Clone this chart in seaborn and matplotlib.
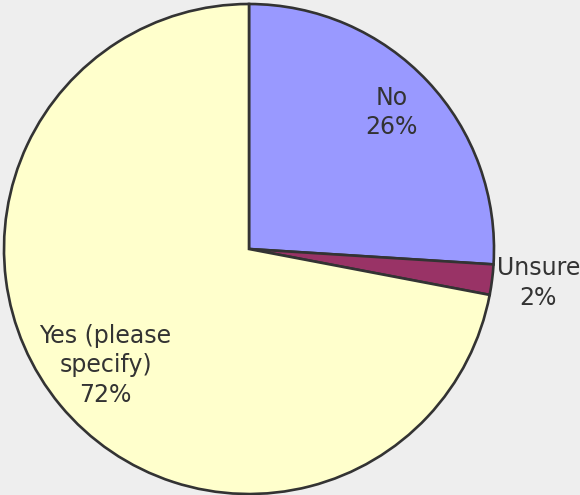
import numpy as np
import matplotlib
matplotlib.use("Agg")
import matplotlib.pyplot as plt
import seaborn as sns

categories = ["No", "Unsure", "Yes (please\nspecify)"]
values = [26, 2, 72]
colors = ["#9999FF", "#993366", "#FFFFCC"]
label_dist = [0.80, 1.19, 0.76]

sns.set_style("white")
plt.rcParams["font.family"] = ["DejaVu Sans"]

fig = plt.figure(figsize=(5.8, 4.95), dpi=100)
fig.patch.set_facecolor("#EEEEEE")
ax = fig.add_axes([4 / 580, 1 / 495, 490 / 580, 490 / 495])
ax.set_facecolor("#EEEEEE")

wedges, _ = ax.pie(values, colors=colors, startangle=90, counterclock=False,
                   radius=1.0, wedgeprops=dict(edgecolor="#333333", linewidth=1.9))
for w, cat, v, d in zip(wedges, categories, values, label_dist):
    mid = np.deg2rad((w.theta1 + w.theta2) / 2)
    x, y = d * np.cos(mid), d * np.sin(mid)
    ax.text(x, y + 0.01, f"{cat}\n{v}%", ha="center", va="center", fontsize=17,
            color="#333333", linespacing=1.3)

ax.set_xlim(-1.0, 1.0)
ax.set_ylim(-1.0, 1.0)
ax.set_aspect("equal")
ax.axis("off")
fig.savefig("out.png", dpi=100, facecolor=fig.get_facecolor())
